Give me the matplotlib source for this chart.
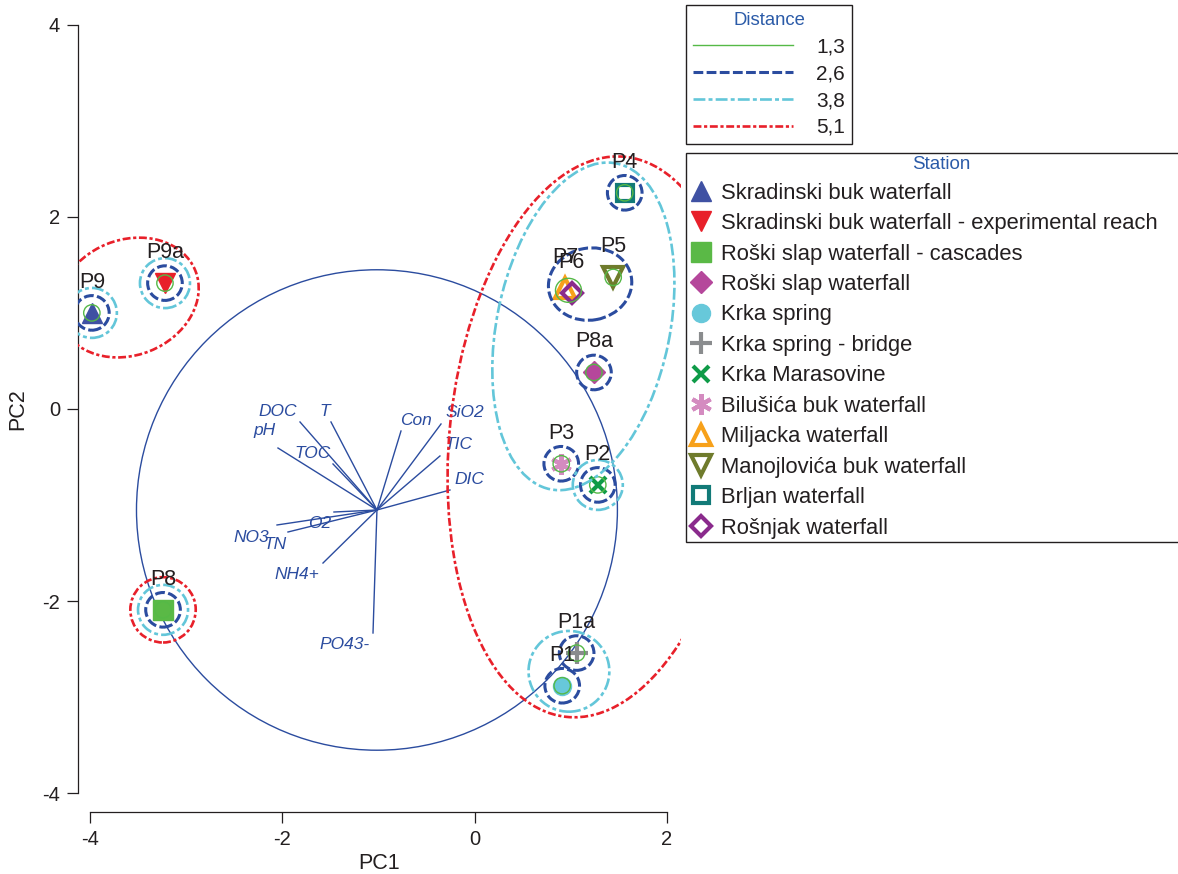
import numpy as np
import matplotlib
matplotlib.use("Agg")
import matplotlib.pyplot as plt
from matplotlib import font_manager
from matplotlib.patches import Ellipse
from matplotlib.lines import Line2D

plt.rcParams['font.family'] = ['Liberation Sans', 'DejaVu Sans']
plt.rcParams['axes.unicode_minus'] = False

installed = {f.name for f in font_manager.fontManager.ttflist}
narrow = 'Liberation Sans Narrow' if 'Liberation Sans Narrow' in installed else 'Liberation Sans'

# PCA scores of the sites
sites = ["P9", "P9a", "P8", "P8a", "P4", "P5", "P6", "P7", "P3", "P2", "P1a", "P1"]
pc1 = [-3.98, -3.22, -3.24, 1.24, 1.56, 1.44, 1.01, 0.94, 0.90, 1.28, 1.06, 0.91]
pc2 = [1.00, 1.31, -2.09, 0.38, 2.25, 1.37, 1.21, 1.26, -0.57, -0.79, -2.54, -2.88]

# stations (legend order) and the site each one belongs to
stations = ["Skradinski buk waterfall",
            "Skradinski buk waterfall - experimental reach",
            "Roški slap waterfall - cascades",
            "Roški slap waterfall",
            "Krka spring",
            "Krka spring - bridge",
            "Krka Marasovine",
            "Bilušića buk waterfall",
            "Miljacka waterfall",
            "Manojlovića buk waterfall",
            "Brljan waterfall",
            "Rošnjak waterfall"]
station_site = ["P9", "P9a", "P8", "P8a", "P1", "P1a", "P2", "P3", "P7", "P5", "P4", "P6"]

# variable loadings (arrow tips), arrows start at the biplot origin
variables = ["DOC", "T", "pH", "TOC", "Con", "SiO2", "TIC", "DIC",
             "O2", "NO3", "TN", "NH4+", "PO43-"]
load_x = [-1.816, -1.494, -2.045, -1.473, -0.766, -0.350, -0.361, -0.257,
          -1.463, -2.055, -1.941, -1.577, -1.057]
load_y = [-0.135, -0.135, -0.406, -0.572, -0.229, -0.156, -0.489, -0.843,
          -1.072, -1.207, -1.280, -1.603, -2.331]
origin = (-1.016, -1.051)
circle_r = 2.5

# cluster levels (distance)
levels = ["1,3", "2,6", "3,8", "5,1"]
# singletons at each level: site lists
single_sites = [
    ["P9", "P9a", "P8", "P8a", "P4", "P5", "P3", "P2", "P1a", "P1"],
    ["P9", "P9a", "P8", "P8a", "P4", "P3", "P2", "P1a", "P1"],
    ["P9", "P9a", "P8", "P2"],
    ["P8"],
]
single_r = [0.085, 0.18, 0.26, 0.34]
# grouped clusters: level index, centre x, centre y, width, height, angle
grp_level = [0, 1, 2, 2, 3, 3]
grp_cx = [0.975, 1.20, 0.98, 1.13, -3.60, 1.26]
grp_cy = [1.235, 1.30, -2.73, 0.86, 1.16, -0.29]
grp_w = [0.27, 0.87, 0.84, 3.46, 1.50, 5.86]
grp_h = [0.25, 0.75, 0.84, 1.80, 1.20, 3.04]
grp_ang = [0, 10, 0, 78.5, 22, 84.0]

lvl_col = ["#55b947", "#2b4c9f", "#63c6d9", "#e8202a"]
lvl_lw = [1.0, 2.2, 1.9, 1.9]
lvl_ls = ["-", (0, (3.2, 1.1)), (0, (4.5, 1.2, 1.5, 1.2)), (0, (3, 1, 1.2, 1))]

st_marker = ['^', 'v', 's', 'D', 'o', '+', 'x', (6, 2, 0), '^', 'v', 's', 'D']
st_color = ["#3f51a3", "#e8202a", "#5ab946", "#b5479b", "#67c8da", "#8a8c8e",
            "#0f9b48", "#d48bc0", "#f7a11a", "#6f7b2c", "#127a78", "#8a2a8c"]
st_fill = [True, True, True, True, True, False, False, False, False, False, False, False]
st_ms = [15, 15, 15, 11, 13, 16, 12, 15, 14, 14, 12, 10]

var_off = [(-15.8, 4.5), (-4.5, 4.1), (-9.6, 9.6), (-15, 4.5), (10.8, 4.3),
           (16.8, 5.3), (13, 4.8), (13.9, 4.3), (-10.5, -11.5), (-18.3, -12),
           (-9.6, -12), (-19, -11.2), (-20.2, -11.2)]

txt = "#231f20"
blue = "#2b4c9f"

fig = plt.figure(figsize=(11.78, 8.74), dpi=100)
W, H = 1178, 874
ax = fig.add_axes([78 / W, 1 - 812 / H, (681 - 78) / W, (812 - 6) / H])
ax.set_xlim(-4.124, 2.145)
ax.set_ylim(-4.194, 4.194)

for s in ["top", "right"]:
    ax.spines[s].set_visible(False)
for s in ["left", "bottom"]:
    ax.spines[s].set_color(txt)
    ax.spines[s].set_linewidth(0.9)
ax.spines["left"].set_bounds(-4, 4)
ax.spines["bottom"].set_bounds(-4, 2)
ax.set_xticks([-4, -2, 0, 2])
ax.set_yticks([-4, -2, 0, 2, 4])
ax.tick_params(direction="out", length=8, width=0.9, color=txt,
               labelcolor=txt, labelsize=14.5)
ax.tick_params(axis="y", pad=5)
ax.tick_params(axis="x", pad=5)
for lab in ax.get_xticklabels() + ax.get_yticklabels():
    lab.set_family(narrow)
ax.set_xlabel("PC1", fontsize=15.5, color=txt, labelpad=3, family=narrow)
ax.set_ylabel("PC2", fontsize=15.5, color=txt, labelpad=10, family=narrow)

site_x = dict(zip(sites, pc1))
site_y = dict(zip(sites, pc2))

# station markers
for i, st in enumerate(stations):
    sx, sy = site_x[station_site[i]], site_y[station_site[i]]
    if st_fill[i]:
        ax.plot(sx, sy, marker=st_marker[i], ms=st_ms[i], color=st_color[i],
                mec=st_color[i], ls="none", zorder=3)
    else:
        ax.plot(sx, sy, marker=st_marker[i], ms=st_ms[i], color=st_color[i],
                mfc="none", mec=st_color[i], mew=3, ls="none", zorder=3)

# cluster rings
for li in range(len(levels)):
    for s in single_sites[li]:
        e = Ellipse((site_x[s], site_y[s]), 2 * single_r[li], 2 * single_r[li],
                    fill=False, ec=lvl_col[li], lw=lvl_lw[li], ls=lvl_ls[li], zorder=4)
        ax.add_patch(e)
for k in range(len(grp_level)):
    li = grp_level[k]
    e = Ellipse((grp_cx[k], grp_cy[k]), grp_w[k], grp_h[k], angle=grp_ang[k],
                fill=False, ec=lvl_col[li], lw=lvl_lw[li], ls=lvl_ls[li], zorder=4)
    ax.add_patch(e)

# site labels
for s in sites:
    ax.annotate(s, (site_x[s], site_y[s]), xytext=(0, 18), textcoords="offset points",
                ha="center", va="baseline", fontsize=15.5, color=txt, zorder=6)

# correlation circle and loadings
ax.add_patch(Ellipse(origin, 2 * circle_r, 2 * circle_r, fill=False, ec=blue, lw=1.0, zorder=2))
for i, v in enumerate(variables):
    ax.plot([origin[0], load_x[i]], [origin[1], load_y[i]], color=blue, lw=1.0, zorder=2)
    ax.annotate(v, (load_x[i], load_y[i]), xytext=var_off[i], textcoords="offset points",
                ha="center", va="baseline", fontsize=12.5, style="italic", color=blue, zorder=2)

# distance legend
h_dist = [Line2D([], [], color=lvl_col[i], lw=lvl_lw[i] if i else 1.0, ls=lvl_ls[i])
          for i in range(len(levels))]
leg1 = fig.legend(h_dist, levels, loc="upper left", bbox_to_anchor=(686 / W, 1 - 5 / H),
                  borderaxespad=0, fontsize=15, title="Distance", title_fontsize=13.3,
                  handlelength=4.8, handletextpad=1.1, labelspacing=0.38,
                  fancybox=False, edgecolor=txt, framealpha=1, borderpad=0.35)
leg1.get_frame().set_linewidth(1.0)
leg1.get_title().set_color("#2b5ba8")
for t in leg1.get_texts():
    t.set_color(txt)
for t, ln in zip(leg1.get_texts(), leg1.get_lines()):
    pass

# station legend
h_st = []
for i in range(len(stations)):
    if st_fill[i]:
        h_st.append(Line2D([], [], marker=st_marker[i], ms=st_ms[i], color=st_color[i], ls="none"))
    else:
        h_st.append(Line2D([], [], marker=st_marker[i], ms=st_ms[i], color=st_color[i],
                           mfc="none", mew=3, ls="none"))
leg2 = fig.legend(h_st, stations, loc="upper left",
                  bbox_to_anchor=(686 / W, 1 - 153 / H - 0.01, 510 / W, 0.01), mode="expand",
                  borderaxespad=0, fontsize=15.8, title="Station", title_fontsize=13.5,
                  handlelength=1.1, handletextpad=0.35, labelspacing=0.43,
                  fancybox=False, edgecolor=txt, framealpha=1, borderpad=0.15)
leg2.get_frame().set_linewidth(1.0)
leg2.get_title().set_color("#2b5ba8")
for t in leg2.get_texts():
    t.set_color(txt)

fig.savefig("out.png", dpi=100)
